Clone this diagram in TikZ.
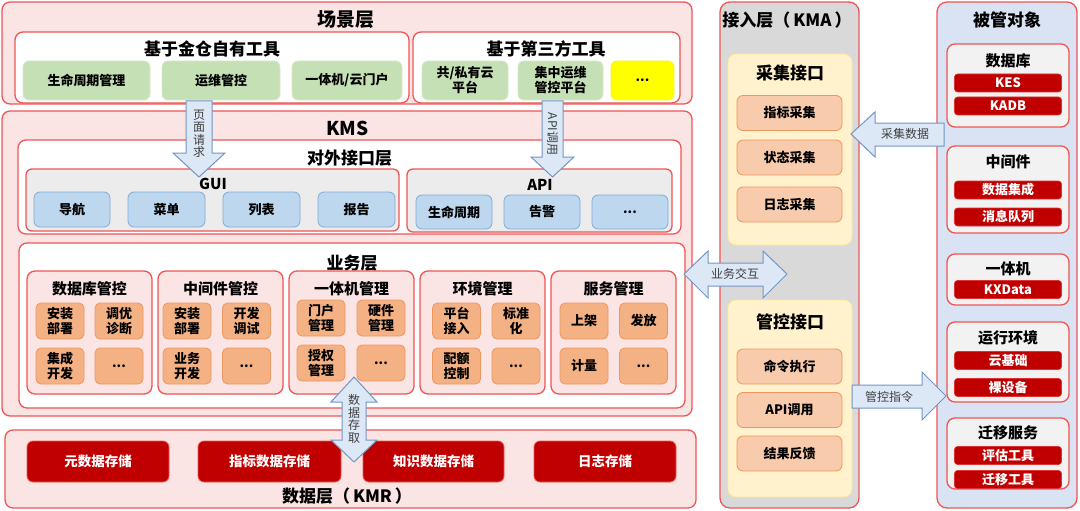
\documentclass[tikz,border=0pt]{standalone}
\usepackage{fontspec}
\setmainfont{Noto Sans CJK SC}

\definecolor{myred}{RGB}{240,85,85}
\definecolor{mypink}{RGB}{251,228,228}
\definecolor{mydarkred}{RGB}{192,0,0}
\definecolor{mygreen}{RGB}{197,224,180}
\definecolor{myyellow}{RGB}{255,255,0}
\definecolor{mygray}{RGB}{236,236,236}
\definecolor{mylightgray}{RGB}{242,242,242}
\definecolor{mysilver}{RGB}{217,217,217}
\definecolor{myblue}{RGB}{189,215,238}
\definecolor{mydarkblue}{RGB}{130,170,215}
\definecolor{mysky}{RGB}{218,227,243}
\definecolor{myorange}{RGB}{244,177,131}
\definecolor{mydarkorange}{RGB}{238,150,95}
\definecolor{mypeach}{RGB}{248,203,173}
\definecolor{mycream}{RGB}{255,242,204}
\definecolor{mygold}{RGB}{255,230,153}
\definecolor{myarrow}{RGB}{220,232,245}
\definecolor{myarrowline}{RGB}{115,150,195}

\tikzset{
  sz/.style 2 args={minimum width=#1pt,minimum height=#2pt},
  box/.style={draw=myred,line width=1.3pt,rounded corners=8pt,inner sep=0pt,align=center},
  layerbox/.style={box,fill=mypink},
  panelbox/.style={box,fill=white},
  grpbox/.style={box,fill=mygray,rounded corners=6pt},
  hugetext/.style={font=\fontsize{19}{21}\selectfont\bfseries},
  headtext/.style={font=\fontsize{17}{19}\selectfont\bfseries},
  subtext/.style={font=\fontsize{15}{17}\selectfont\bfseries},
  itemtext/.style={inner sep=0pt,align=center,font=\fontsize{13}{15}\selectfont\bfseries},
  toolbox/.style={itemtext,draw=mygreen!70!white,line width=0.8pt,fill=mygreen,rounded corners=6pt},
  bluebox/.style={itemtext,draw=mydarkblue,line width=0.8pt,fill=myblue,rounded corners=6pt},
  workbox/.style={itemtext,draw=mydarkorange,line width=0.8pt,fill=myorange,rounded corners=5pt,sz={48}{36}},
  taskbox/.style={itemtext,draw=mydarkorange,line width=0.8pt,fill=mypeach,rounded corners=6pt,sz={105}{35}},
  portbox/.style={draw=mygold,line width=0.8pt,fill=mycream,rounded corners=8pt},
  storebox/.style={itemtext,draw=myred,line width=0.8pt,fill=mydarkred,text=white,rounded corners=6pt,font=\fontsize{13.5}{15}\selectfont\bfseries},
  tagbox/.style={itemtext,draw=myred!60!mydarkred,line width=0.6pt,fill=mydarkred,text=white,rounded corners=3pt,sz={107}{18}},
  bigarrow/.style={draw=myarrowline,fill=myarrow,line width=1pt,line join=miter},
  arrowtext/.style={inner sep=0pt,align=center,text=black!75,font=\fontsize{12}{12.5}\selectfont}
}

\begin{document}
\begin{tikzpicture}[x=1pt,y=-1pt]
 \useasboundingbox (0,0) rectangle (1080,511);

 \node[layerbox,sz={690}{102}] (scene) at (347,53) {};
 \node[hugetext] (scenet) at (346,20) {场景层};
 \node[panelbox,sz={394}{71}] (selftools) at (212,67.5) {};
 \node[headtext] (selft) at (212,49) {基于金仓自有工具};
 \node[toolbox,sz={127}{39}] (lifecycle) at (86.5,80.5) {生命周期管理};
 \node[toolbox,sz={118}{39}] (ops)       at (221,80.5)  {运维管控};
 \node[toolbox,sz={110}{39}] (portal)    at (347,80.5)  {一体机/云门户};
 \node[panelbox,sz={267}{71}] (thirdtools) at (546.5,67.5) {};
 \node[headtext] (thirdt) at (546,49) {基于第三方工具};
 \node[toolbox,sz={86}{39}] (cloud)   at (465,80.5)   {共/私有云\\平台};
 \node[toolbox,sz={85}{39}] (opsplat) at (560.5,80.5) {集中运维\\管控平台};
 \node[toolbox,fill=myyellow,draw=myyellow!80!mygreen,sz={63}{39}] (toolmore) at (642.5,80.5) {...};

 \node[layerbox,sz={690}{305}] (kms) at (347,263.5) {};
 \node[hugetext] (kmst) at (347.5,128) {KMS};
 \node[panelbox,sz={663}{94}] (iface) at (349.5,187) {};
 \node[headtext] (ifacet) at (349.5,158) {对外接口层};
 \node[grpbox,sz={373}{62}] (gui) at (212.5,200) {};
 \node[subtext] (guit) at (213,184) {GUI};
 \node[bluebox,sz={76}{35}] (nav)    at (72,209.5)    {导航};
 \node[bluebox,sz={77}{35}] (menu)   at (166.5,209.5) {菜单};
 \node[bluebox,sz={77}{35}] (list)   at (261.5,209.5) {列表};
 \node[bluebox,sz={77}{35}] (report) at (356.5,209.5) {报告};
 \node[grpbox,sz={265}{63}] (api) at (539.5,200.5) {};
 \node[subtext] (apit) at (540,185) {API};
 \node[bluebox,sz={76}{34}] (apilife) at (454,212) {生命周期};
 \node[bluebox,sz={76}{34}] (alarm)   at (542,212) {告警};
 \node[bluebox,sz={76}{34}] (apimore) at (630,212) {...};

 \node[panelbox,sz={666}{165}] (biz) at (352,325.5) {};
 \node[headtext] (bizt) at (352,263) {业务层};
 \node[layerbox,sz={125}{123}] (dbctl)  at (89.5,332.5)  {};
 \node[layerbox,sz={125}{123}] (mwctl)  at (220.5,332.5) {};
 \node[layerbox,sz={125}{123}] (aioctl) at (351.5,332.5) {};
 \node[layerbox,sz={125}{123}] (envctl) at (482.5,332.5) {};
 \node[layerbox,sz={125}{123}] (svcctl) at (613.5,332.5) {};
 \node[subtext] (dbctlt)  at (89.5,289)  {数据库管控};
 \node[subtext] (mwctlt)  at (220.5,289) {中间件管控};
 \node[subtext] (aioctlt) at (351.5,289) {一体机管理};
 \node[subtext] (envctlt) at (482.5,289) {环境管理};
 \node[subtext] (svcctlt) at (613.5,289) {服务管理};
 \node[workbox] (dbinst)  at (60,321)    {安装\\部署};
 \node[workbox] (dbtune)  at (119,321)   {调优\\诊断};
 \node[workbox] (dbinteg) at (60,366)    {集成\\开发};
 \node[workbox] (dbmore)  at (119,366)   {...};
 \node[workbox] (mwinst)  at (187,321)   {安装\\部署};
 \node[workbox] (mwdev)   at (246.5,321) {开发\\调试};
 \node[workbox] (mwbiz)   at (187,366)   {业务\\开发};
 \node[workbox] (mwmore)  at (246.5,366) {...};
 \node[workbox] (aioport) at (321,318)   {门户\\管理};
 \node[workbox] (aiohw)   at (381,318)   {硬件\\管理};
 \node[workbox] (aioauth) at (321,363)   {授权\\管理};
 \node[workbox] (aiomore) at (381,363)   {...};
 \node[workbox] (envplat) at (456.5,321) {平台\\接入};
 \node[workbox] (envstd)  at (516,321)   {标准\\化};
 \node[workbox] (envquota) at (456.5,366) {配额\\控制};
 \node[workbox] (envmore) at (516,366)   {...};
 \node[workbox] (svcup)   at (584,321)   {上架};
 \node[workbox] (svcissue) at (643.5,321) {发放};
 \node[workbox] (svcmeter) at (584,366)  {计量};
 \node[workbox] (svcmore) at (643.5,366) {...};

 \node[layerbox,sz={691}{78}] (data) at (350.5,469) {};
 \node[headtext] (datat) at (347,496.5) {数据层（\hspace{3pt}KMR\hspace{3pt}）};
 \node[storebox,sz={142}{41}] (meta)   at (98,461.5)    {元数据存储};
 \node[storebox,sz={143}{41}] (metric) at (269.5,461.5) {指标数据存储};
 \node[storebox,sz={141}{41}] (know)   at (433.5,461.5) {知识数据存储};
 \node[storebox,sz={142}{41}] (logs)   at (605,461.5)   {日志存储};

 \node[box,fill=mysilver,rounded corners=10pt,sz={139}{506}] (kma) at (789.5,255) {};
 \node[headtext] (kmat) at (787,20) {接入层（\hspace{3pt}KMA\hspace{3pt}）};
 \node[portbox,sz={124}{191}] (collect) at (790,149.5) {};
 \node[headtext] (collectt) at (790,73) {采集接口};
 \node[taskbox] (metcol)  at (789.5,113)   {指标采集};
 \node[taskbox] (statcol) at (789.5,157.5) {状态采集};
 \node[taskbox] (logcol)  at (789.5,204.5) {日志采集};
 \node[portbox,sz={124}{197}] (control) at (790,398.5) {};
 \node[headtext] (controlt) at (790,322) {管控接口};
 \node[taskbox] (cmdexec)  at (789.5,366.5) {命令执行};
 \node[taskbox] (apicall)  at (789.5,410)   {API调用};
 \node[taskbox] (feedback) at (789.5,453.5) {结果反馈};

 \node[box,fill=mysky,rounded corners=10pt,sz={140}{506}] (target) at (1007,255) {};
 \node[headtext] (targett) at (1007,20) {被管对象};
 \node[box,fill=mylightgray,sz={122}{83}] (tdb)  at (1008,85.5)  {};
 \node[box,fill=mylightgray,sz={122}{87}] (tmw)  at (1008,189.5) {};
 \node[box,fill=mylightgray,sz={122}{51}] (taio) at (1008,279.5) {};
 \node[box,fill=mylightgray,sz={122}{80}] (tenv) at (1008,362)   {};
 \node[box,fill=mylightgray,sz={122}{71}] (tmig) at (1008,453.5) {};
 \node[subtext] (tdbt)  at (1008,61)  {数据库};
 \node[subtext] (tmwt)  at (1008,162) {中间件};
 \node[subtext] (taiot) at (1008,269) {一体机};
 \node[subtext] (tenvt) at (1008,338) {运行环境};
 \node[subtext] (tmigt) at (1008,433) {迁移服务};
 \node[tagbox] (kes)       at (1008,83)    {KES};
 \node[tagbox] (kadb)      at (1008,106)   {KADB};
 \node[tagbox] (integ)     at (1008,190)   {数据集成};
 \node[tagbox] (mq)        at (1008,217)   {消息队列};
 \node[tagbox] (kxdata)    at (1008,289.5) {KXData};
 \node[tagbox] (cloudbase) at (1008,360.5) {云基础};
 \node[tagbox] (bare)      at (1008,387.5) {裸设备};
 \node[tagbox] (evaltool)  at (1008,455.5) {评估工具};
 \node[tagbox] (migtool)   at (1008,479.5) {迁移工具};

 \draw[bigarrow] (186,101) -- (186,153) -- (173,153) -- (199,177) -- (225,153) -- (212,153) -- (212,101) -- cycle;
 \node[arrowtext] (reqt) at (199,134) {页\\面\\请\\求};
 \draw[bigarrow] (542,101) -- (542,157) -- (531,157) -- (552.5,177) -- (574,157) -- (563,157) -- (563,101) -- cycle;
 \node[arrowtext,rotate=-90] (callt) at (552.5,134) {API调用};
 \draw[bigarrow] (354,377) -- (377,402) -- (366,402) -- (366,440) -- (377,440) -- (354,462)
   -- (331,440) -- (342,440) -- (342,402) -- (331,402) -- cycle;
 \node[arrowtext] (accesst) at (354,419) {数\\据\\存\\取};
 \draw[bigarrow] (684,274) -- (708,251) -- (708,263) -- (763,263) -- (763,251) -- (787,274)
   -- (763,298) -- (763,286) -- (708,286) -- (708,298) -- cycle;
 \node[arrowtext] (bizintt) at (735,274) {业务交互};
 \draw[bigarrow] (851,134) -- (875,112) -- (875,123) -- (944,123) -- (944,146) -- (875,146) -- (875,157) -- cycle;
 \node[arrowtext] (gathert) at (905,134) {采集数据};
 \draw[bigarrow] (852,385) -- (922,385) -- (922,372) -- (946,396) -- (922,420) -- (922,408) -- (852,408) -- cycle;
 \node[arrowtext] (cmdt) at (889,397) {管控指令};

\end{tikzpicture}
\end{document}
